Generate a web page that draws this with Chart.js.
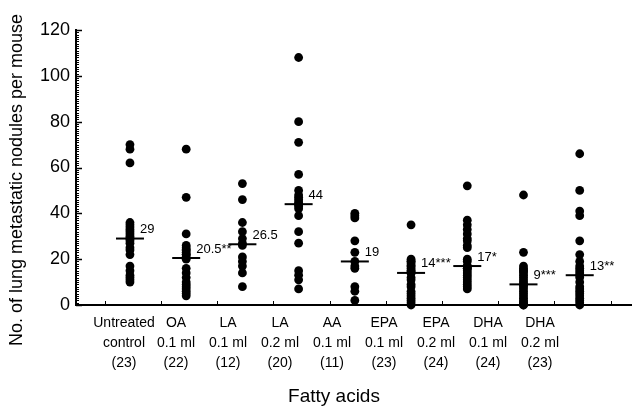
<!DOCTYPE html>
<html><head><meta charset="utf-8">
<script src="https://cdn.jsdelivr.net/npm/chart.js@4/dist/chart.umd.min.js"></script>
<style>html,body{margin:0;padding:0;background:#fff;}</style>
</head><body>
<canvas id="c" width="632" height="408"></canvas>
<script>
// ---- data ----
const categories = [
  ["Untreated", "control", "(23)"],
  ["OA", "0.1 ml", "(22)"],
  ["LA", "0.1 ml", "(12)"],
  ["LA", "0.2 ml", "(20)"],
  ["AA", "0.1 ml", "(11)"],
  ["EPA", "0.1 ml", "(23)"],
  ["EPA", "0.2 ml", "(24)"],
  ["DHA", "0.1 ml", "(24)"],
  ["DHA", "0.2 ml", "(23)"]
];
const untreated = [70, 68, 62, 36, 35, 34, 33, 32, 31, 30, 29, 29, 28, 27, 25, 24, 22, 17, 15, 13, 12, 11, 10];
const oa01 = [68, 47, 31, 26, 25, 24, 24, 23, 22, 22, 21, 20, 16, 14, 12, 10, 9, 8, 7, 6, 5, 4];
const la01 = [53, 46, 36, 32, 29, 27, 26, 21, 19, 17, 14, 8];
const la02 = [108, 80, 71, 57, 50, 48, 47, 46, 45, 44, 44, 43, 42, 39, 32, 27, 15, 13, 11, 7];
const aa01 = [40, 39, 38, 28, 23, 19, 17, 16, 8, 6, 2];
const epa01 = [35, 20, 19, 19, 18, 17, 17, 16, 15, 15, 14, 14, 12, 11, 9, 8, 6, 5, 4, 3, 2, 1, 0];
const epa02 = [52, 37, 35, 33, 31, 29, 28, 26, 25, 20, 19, 17, 17, 16, 16, 15, 14, 13, 12, 11, 10, 9, 8, 7];
const dha01 = [48, 23, 17, 16, 15, 15, 14, 13, 12, 11, 10, 9, 9, 8, 7, 6, 5, 4, 3, 2, 1, 1, 0, 0];
const dha02 = [66, 50, 41, 39, 28, 22, 19, 17, 16, 15, 14, 13, 12, 10, 8, 7, 6, 5, 4, 3, 2, 1, 0];
const medians = [29, 20.5, 26.5, 44, 19, 14, 17, 9, 13];
const medianLabels = ["29", "20.5**", "26.5", "44", "19", "14***", "17*", "9***", "13**"];
const yTickLabels = [0, 20, 40, 60, 80, 100, 120];
const yTitle = "No. of lung metastatic nodules per mouse";
const xTitle = "Fatty acids";

// ---- build ----
const groups = [untreated, oa01, la01, la02, aa01, epa01, epa02, dha01, dha02];
const points = [];
groups.forEach((g, i) => g.forEach(v => points.push({x: i + 1, y: v})));
const medianPts = medians.map((m, i) => ({x: i + 1, y: m}));
const FONT = "'Liberation Sans', Arial, Helvetica, sans-serif";

const decor = {
  id: 'decor',
  afterDraw(chart) {
    const ctx = chart.ctx;
    const ys = chart.scales.y, xs = chart.scales.x, xl = chart.scales.xl;
    const area = chart.chartArea;
    ctx.save();
    ctx.strokeStyle = '#000';
    // y ticks (inward)
    for (let v = 0; v <= 120; v += 1) {
      const py = Math.round(ys.getPixelForValue(v)) + 0.5;
      const len = (v % 20 === 0) ? 6 : 3;
      ctx.lineWidth = (v % 20 === 0) ? 1.5 : 1;
      ctx.beginPath();
      ctx.moveTo(area.left, py);
      ctx.lineTo(area.left + len, py);
      ctx.stroke();
    }
    // x ticks between groups (inward)
    ctx.lineWidth = 1;
    for (let i = 0; i <= categories.length; i++) {
      const px = Math.round(xs.getPixelForValue(i + 0.55)) + 0.5;
      ctx.beginPath();
      ctx.moveTo(px, area.bottom);
      ctx.lineTo(px, area.bottom - 4);
      ctx.stroke();
    }
    ctx.fillStyle = '#000';
    // category labels
    ctx.font = '14px ' + FONT;
    ctx.textAlign = 'center';
    ctx.textBaseline = 'middle';
    categories.forEach((lines, i) => {
      const px = xl.getPixelForValue(i + 1);
      lines.forEach((t, k) => ctx.fillText(t, px, area.bottom + 18 + 20 * k));
    });
    // median labels
    ctx.font = '13px ' + FONT;
    ctx.textAlign = 'left';
    medians.forEach((m, i) => {
      ctx.fillText(medianLabels[i], xs.getPixelForValue(i + 1) + 10, ys.getPixelForValue(m) - 9);
    });
    // axis titles
    ctx.font = '18px ' + FONT;
    ctx.textAlign = 'center';
    ctx.save();
    ctx.translate(17, 180);
    ctx.rotate(-Math.PI / 2);
    ctx.fillText(yTitle, 0, 0);
    ctx.restore();
    ctx.font = '19px ' + FONT;
    ctx.fillText(xTitle, 334, 397);
    ctx.restore();
  }
};

new Chart(document.getElementById('c'), {
  type: 'scatter',
  data: {
    datasets: [
      {data: points, pointRadius: 4.4, pointHoverRadius: 4.4, backgroundColor: '#000', pointBackgroundColor: '#000', pointBorderWidth: 0, borderWidth: 0, clip: false},
      {data: medianPts, pointStyle: 'line', pointRadius: 14, pointHoverRadius: 14, borderColor: '#000', pointBorderColor: '#000', pointBorderWidth: 2, clip: false}
    ]
  },
  options: {
    responsive: false,
    animation: false,
    events: [],
    layout: {autoPadding: false, padding: {top: 30, left: 0, right: 0, bottom: 0}},
    plugins: {legend: {display: false}, tooltip: {enabled: false}},
    scales: {
      x: {type: 'linear', min: 0.04, max: 9.93, display: false},
      xl: {
        type: 'linear', position: 'bottom', min: 0.0769, max: 10.769,
        afterFit: s => { s.height = 103; },
        ticks: {display: false},
        grid: {display: false, drawTicks: false},
        border: {display: true, color: '#000', width: 2}
      },
      y: {
        min: 0, max: 120,
        afterBuildTicks: s => { s.ticks = yTickLabels.map(v => ({value: v})); },
        afterFit: s => { s.width = 76; },
        ticks: {font: {family: FONT, size: 18}, color: '#000', padding: 6},
        grid: {display: false, drawTicks: false},
        border: {display: true, color: '#000', width: 2}
      }
    }
  },
  plugins: [decor]
});
</script>
</body></html>
